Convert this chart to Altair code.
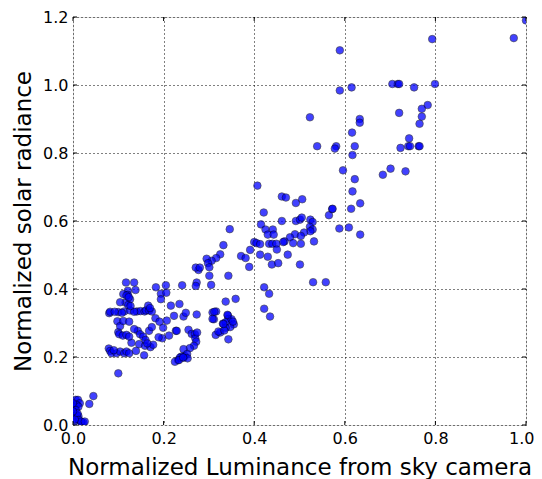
import altair as alt
import pandas as pd

# Normalized luminance (x) and normalized solar radiance (y)
lum = [
    # near zero
    0.045, 0.036, 0.006, 0.011, 0.015, 0.008, 0.002, 0.012, 0.006, 0.008, 0.002, 0.012,
    0.019, 0.023, 0.002, 0.010, 0.013, 0.018, 0.026, 0.004, 0.000, 0.000,
    # low cluster y~0.21
    0.079, 0.082, 0.085, 0.096, 0.104, 0.113, 0.118, 0.124, 0.100, 0.090,
    # y~0.24-0.29
    0.129, 0.146, 0.159, 0.171, 0.177, 0.157, 0.139,
    0.100, 0.102, 0.110, 0.118, 0.124,
    0.143, 0.148, 0.155, 0.160, 0.164,
    0.168, 0.174, 0.197, 0.189, 0.212, 0.227, 0.199,
    # y~0.29-0.31
    0.098, 0.104, 0.111, 0.124, 0.135, 0.182, 0.191, 0.207,
    # y~0.33 row
    0.080, 0.082, 0.100, 0.113, 0.126, 0.141, 0.149, 0.158, 0.161, 0.168, 0.174, 0.166,
    0.170, 0.092, 0.108, 0.135,
    # y~0.35-0.42 at x~0.1-0.14
    0.121, 0.121, 0.126, 0.116, 0.122, 0.104, 0.117, 0.135, 0.138, 0.111, 0.118, 0.123, 0.127,
    # x~0.18-0.27, y~0.28-0.42
    0.183, 0.194, 0.206, 0.194, 0.205, 0.216, 0.235, 0.241, 0.223, 0.244, 0.249, 0.229,
    # x~0.22-0.27, y~0.19-0.28
    0.255, 0.262, 0.269, 0.270, 0.272, 0.267, 0.258, 0.274, 0.244,
    0.247, 0.252, 0.239, 0.232, 0.236, 0.244, 0.253, 0.225, 0.234, 0.243,
    # x~0.27-0.36, y~0.25-0.42
    0.273, 0.273, 0.271, 0.305, 0.308, 0.316, 0.311, 0.312, 0.308,
    0.342, 0.343, 0.331, 0.337, 0.350, 0.355, 0.347, 0.315, 0.325, 0.343, 0.337,
    0.321, 0.334, 0.332, 0.341, 0.353,
    0.337, 0.359,
    # x~0.27-0.36, y~0.43-0.58
    0.277, 0.301, 0.343, 0.271, 0.280, 0.346, 0.332, 0.325, 0.316, 0.306, 0.295, 0.298, 0.301,
    # mid cluster
    0.371, 0.381, 0.389, 0.391, 0.407, 0.461, 0.470, 0.492, 0.506, 0.421, 0.461, 0.492,
    0.501, 0.505, 0.524, 0.529, 0.415, 0.425, 0.441, 0.430, 0.443, 0.523, 0.529, 0.524,
    0.510, 0.490, 0.503, 0.479, 0.467, 0.464, 0.400, 0.405, 0.413, 0.433, 0.440, 0.449,
    0.486, 0.503, 0.532, 0.450, 0.413, 0.430, 0.474, 0.439, 0.453, 0.501, 0.565, 0.572,
    0.588, 0.609, 0.634, 0.530, 0.558, 0.422, 0.433, 0.422, 0.435,
    # upper
    1.000, 0.973, 0.793, 0.589, 0.589, 0.615, 0.705, 0.717, 0.720, 0.753, 0.799, 0.783,
    0.770, 0.770, 0.765, 0.720, 0.633, 0.633, 0.616, 0.581, 0.578, 0.622, 0.617, 0.723,
    0.742, 0.740, 0.744, 0.763, 0.765, 0.596, 0.622, 0.617, 0.684, 0.701, 0.734, 0.573,
    0.614, 0.634, 0.523, 0.539,
]

rad = [
    # near zero
    0.085, 0.062, 0.074, 0.074, 0.064, 0.059, 0.052, 0.054, 0.044, 0.029, 0.026, 0.026,
    0.007, 0.007, 0.007, 0.034, 0.015, 0.010, 0.010, 0.016, 0.040, 0.064,
    # low cluster y~0.21
    0.225, 0.218, 0.211, 0.211, 0.216, 0.211, 0.216, 0.211, 0.152, 0.220,
    # y~0.24-0.29
    0.242, 0.238, 0.233, 0.229, 0.236, 0.205, 0.218,
    0.273, 0.267, 0.263, 0.265, 0.260,
    0.277, 0.267, 0.260, 0.250, 0.240,
    0.277, 0.288, 0.255, 0.258, 0.263, 0.277, 0.286,
    # y~0.29-0.31
    0.305, 0.291, 0.306, 0.304, 0.282, 0.314, 0.304, 0.307,
    # y~0.33 row
    0.329, 0.333, 0.332, 0.334, 0.337, 0.334, 0.335, 0.334, 0.337, 0.337, 0.334, 0.351,
    0.344, 0.333, 0.330, 0.333,
    # y~0.35-0.42 at x~0.1-0.14
    0.395, 0.383, 0.370, 0.360, 0.353, 0.361, 0.419, 0.419, 0.397, 0.385, 0.381, 0.376, 0.350,
    # x~0.18-0.27, y~0.28-0.42
    0.405, 0.386, 0.389, 0.370, 0.411, 0.351, 0.356, 0.411, 0.321, 0.319, 0.330, 0.277,
    # x~0.22-0.27, y~0.19-0.28
    0.280, 0.268, 0.267, 0.255, 0.245, 0.233, 0.226, 0.272, 0.223,
    0.203, 0.209, 0.201, 0.191, 0.198, 0.198, 0.196, 0.186, 0.191, 0.199,
    # x~0.27-0.36, y~0.25-0.42
    0.325, 0.419, 0.409, 0.412, 0.331, 0.334, 0.311, 0.333, 0.312,
    0.322, 0.312, 0.298, 0.302, 0.311, 0.296, 0.288, 0.265, 0.272, 0.252, 0.286,
    0.275, 0.278, 0.297, 0.324, 0.304,
    0.363, 0.371,
    # x~0.27-0.36, y~0.43-0.58
    0.456, 0.439, 0.439, 0.463, 0.463, 0.576, 0.529, 0.502, 0.491, 0.483, 0.489, 0.476, 0.464,
    # mid cluster
    0.497, 0.491, 0.465, 0.515, 0.704, 0.672, 0.669, 0.653, 0.664, 0.625, 0.600, 0.600,
    0.604, 0.610, 0.604, 0.597, 0.590, 0.575, 0.575, 0.560, 0.560, 0.583, 0.575, 0.570,
    0.566, 0.561, 0.556, 0.552, 0.540, 0.538, 0.538, 0.535, 0.532, 0.533, 0.533, 0.533,
    0.535, 0.533, 0.540, 0.516, 0.501, 0.495, 0.501, 0.472, 0.476, 0.472, 0.617, 0.635,
    0.578, 0.581, 0.560, 0.420, 0.420, 0.405, 0.386, 0.342, 0.319,
    # upper
    1.190, 1.138, 1.135, 1.102, 0.984, 0.993, 1.003, 1.003, 1.003, 0.993, 1.003, 0.941,
    0.930, 0.907, 0.886, 0.918, 0.900, 0.889, 0.860, 0.820, 0.813, 0.820, 0.794, 0.815,
    0.843, 0.820, 0.820, 0.820, 0.820, 0.749, 0.723, 0.687, 0.736, 0.754, 0.746, 0.636,
    0.636, 0.652, 0.905, 0.820,
]

x_ticks = [0.0, 0.2, 0.4, 0.6, 0.8, 1.0]
y_ticks = [0.0, 0.2, 0.4, 0.6, 0.8, 1.0, 1.2]

df = pd.DataFrame({"lum": lum, "rad": rad})
xt = pd.DataFrame({"lum": x_ticks})
yt = pd.DataFrame({"rad": y_ticks})

W, H = 453, 408
FONT = "DejaVu Sans"

xscale = alt.Scale(domain=[0, 1.0], nice=False, zero=False)
yscale = alt.Scale(domain=[0, 1.2], nice=False, zero=False)

common = dict(
    format=".1f", grid=True, gridDash=[1, 3], gridColor="black",
    gridOpacity=1, gridWidth=1, ticks=False, tickSize=0, domain=False,
    labelFlush=False, labelOverlap=False,
    labelFont=FONT, labelFontSize=16, labelColor="black", labelPadding=5,
    titleFont=FONT, titleFontSize=23, titleFontWeight="normal", titleColor="black",
)
xaxis = alt.Axis(
    title="Normalized Luminance from sky camera", values=x_ticks, titlePadding=10,
    labelAlign={"condition": {"test": "datum.value >= 1", "value": "right"}, "value": "center"},
    labelOffset={"condition": {"test": "datum.value >= 1", "value": 8}, "value": 0},
    **common)
yaxis = alt.Axis(title="Normalized solar radiance", values=y_ticks,
                 titlePadding=7, **common)

X = alt.X("lum:Q", scale=xscale, axis=xaxis)
Y = alt.Y("rad:Q", scale=yscale, axis=yaxis)

points = alt.Chart(df).mark_circle(
    size=58, color="#0000ff", opacity=0.74, stroke="black", strokeWidth=0.6, clip=True
).encode(x=X, y=Y)

tick_style = dict(color="black", strokeWidth=1)
bottom_ticks = alt.Chart(xt).mark_rule(**tick_style).encode(
    x=X, y=alt.value(H), y2=alt.value(H - 4))
top_ticks = alt.Chart(xt).mark_rule(**tick_style).encode(
    x=X, y=alt.value(0), y2=alt.value(4))
left_ticks = alt.Chart(yt).mark_rule(**tick_style).encode(
    y=Y, x=alt.value(0), x2=alt.value(4))
right_ticks = alt.Chart(yt).mark_rule(**tick_style).encode(
    y=Y, x=alt.value(W), x2=alt.value(W - 4))

chart = alt.layer(points, bottom_ticks, top_ticks, left_ticks, right_ticks).properties(
    width=W, height=H,
    autosize=alt.AutoSizeParams(type="none"),
    padding={"left": 65, "top": 9, "right": 8, "bottom": 60},
).configure_view(
    stroke="black", strokeWidth=1.2
).configure(background="white")

chart.save("out.html", embed_options={"renderer": "svg", "actions": False})
